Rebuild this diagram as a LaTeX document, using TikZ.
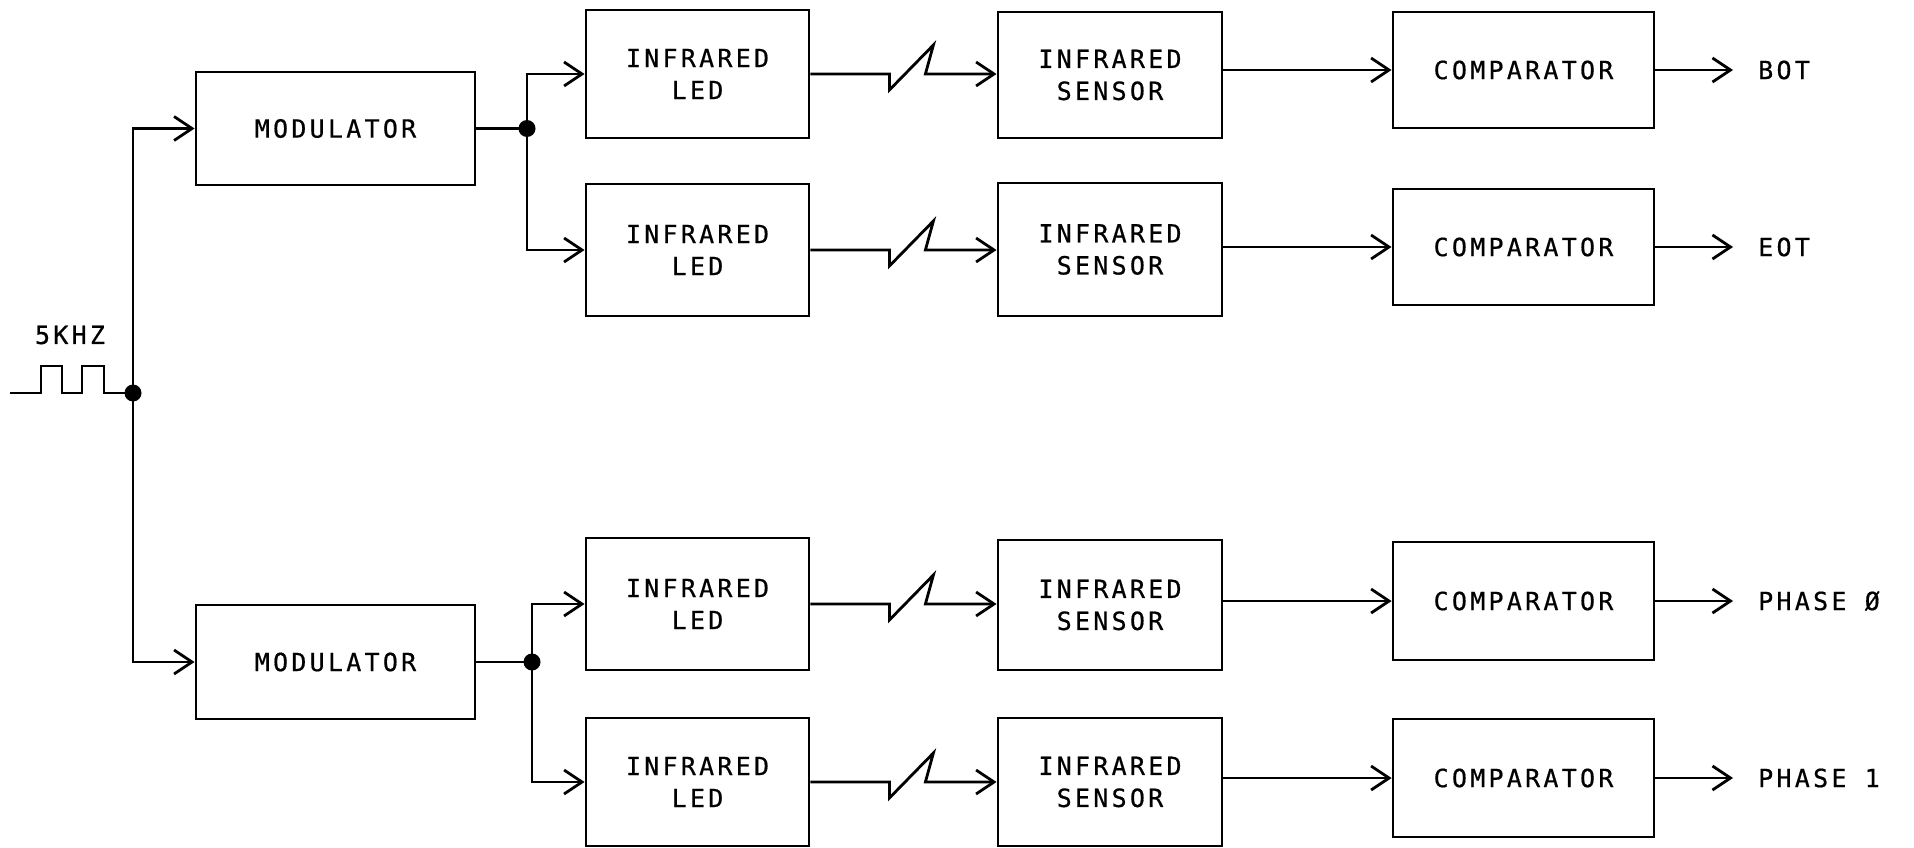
\documentclass[tikz,border=0pt]{standalone}
\usepackage{fontspec}
\usetikzlibrary{arrows.meta}
\newfontfamily\lett[LetterSpace=13,FakeBold=0.6]{DejaVu Sans Mono}
\tikzset{
  every picture/.style={x=1pt,y=-1pt},
  box/.style={draw, line width=2.8pt, inner sep=0pt, align=center, font=\lett\fontsize{25}{32}\selectfont},
  ln/.style={line width=2.8pt},
  arr/.style={line width=2.8pt, -{Straight Barb[length=18pt,width=24pt,line width=2.8pt]}},
  lab/.style={font=\lett\fontsize{25}{32}\selectfont, inner sep=0pt, anchor=west},
  dot/.style={circle, fill=black, inner sep=0pt, minimum size=17pt},
  zig/.style={to path={-- ++(79,0) -- ++(0,16) -- ++(44,-45) -- ++(-8,29) -- (\tikztotarget)}}
}
\begin{document}
\begin{tikzpicture}
\useasboundingbox (0,0) rectangle (1914,848);
% modulators
\node[box, minimum width=279pt, minimum height=113pt] (mod1) at (335.5,128.5) {MODULATOR};
\node[box, minimum width=279pt, minimum height=114pt] (mod2) at (335.5,662) {MODULATOR};
% LEDs
\node[box, minimum width=223pt, minimum height=128pt] (led1) at (697.5,74) {INFRARED\\LED};
\node[box, minimum width=223pt, minimum height=132pt] (led2) at (697.5,250) {INFRARED\\LED};
\node[box, minimum width=223pt, minimum height=132pt] (led3) at (697.5,604) {INFRARED\\LED};
\node[box, minimum width=223pt, minimum height=128pt] (led4) at (697.5,782) {INFRARED\\LED};
% sensors
\node[box, minimum width=224pt, minimum height=126pt] (s1) at (1110,75) {INFRARED\\SENSOR};
\node[box, minimum width=224pt, minimum height=133pt] (s2) at (1110,249.5) {INFRARED\\SENSOR};
\node[box, minimum width=224pt, minimum height=130pt] (s3) at (1110,605) {INFRARED\\SENSOR};
\node[box, minimum width=224pt, minimum height=128pt] (s4) at (1110,782) {INFRARED\\SENSOR};
% comparators
\node[box, minimum width=261pt, minimum height=116pt] (c1) at (1523.5,70) {COMPARATOR};
\node[box, minimum width=261pt, minimum height=116pt] (c2) at (1523.5,247) {COMPARATOR};
\node[box, minimum width=261pt, minimum height=118pt] (c3) at (1523.5,601) {COMPARATOR};
\node[box, minimum width=261pt, minimum height=118pt] (c4) at (1523.5,778) {COMPARATOR};
% outputs
\node[lab] (o1) at (1758,70) {BOT};
\node[lab] (o2) at (1758,247) {EOT};
\node[lab] (o3) at (1758,601) {PHASE Ø};
\node[lab] (o4) at (1758,778) {PHASE 1};
% source
\node[lab, anchor=center] (f) at (70,335) {5KHZ};
\coordinate (src) at (10,393);
\coordinate (jn) at (133,393);
\draw[ln] (src) -- ++(31,0) -- ++(0,-27) -- ++(21,0) -- ++(0,27) -- ++(20,0) -- ++(0,-27) -- ++(22,0) -- ++(0,27) -- (jn);
\draw[arr] (jn) |- (mod1.west);
\draw[arr] (jn) |- (mod2.west);
\node[dot] at (jn) {};
% branches
\coordinate (b1) at (527,128.5);
\coordinate (b2) at (532,662);
\draw[ln] (mod1.east) -- (b1);
\draw[ln] (mod2.east) -- (b2);
\draw[arr] (b1) |- (led1.west);
\draw[arr] (b1) |- (led2.west);
\draw[arr] (b2) |- (led3.west);
\draw[arr] (b2) |- (led4.west);
\node[dot] at (b1) {};
\node[dot] at (b2) {};
% infrared links
\foreach \i in {1,2,3,4}{
  \draw[arr, line join=miter] (led\i.east) to[zig] (led\i.east -| s\i.west);
  \draw[arr] (s\i.east |- c\i.west) -- (c\i.west);
  \draw[arr] (c\i.east) -- ([xshift=-25pt]o\i.west);
}
\end{tikzpicture}
\end{document}
